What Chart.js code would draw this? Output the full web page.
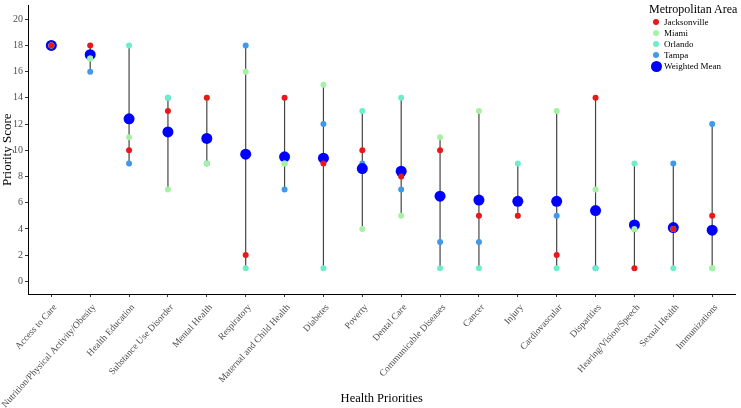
<!DOCTYPE html>
<html>
<head>
<meta charset="utf-8">
<script src="https://cdn.jsdelivr.net/npm/chart.js@4.4.0/dist/chart.umd.min.js"></script>
<style>
  html, body { margin: 0; padding: 0; background: #fff; }
  #wrap { position: relative; width: 741px; height: 408px; }
  #legend { position: absolute; left: 648px; top: 2px; font-family: 'Liberation Serif', serif; color: #000; }
  #legend .title { font-size: 12px; line-height: 14px; height: 14px; margin-left: 1px; }
  #legend .row { display: flex; align-items: center; height: 11.2px; font-size: 9px; }
  #legend .dot { width: 16px; display: flex; justify-content: center; }
  #legend .dot span { display: block; border-radius: 50%; }
</style>
</head>
<body>
<div id="wrap">
  <canvas id="chart" width="741" height="408"></canvas>
  <div id="legend"></div>
</div>
<script>
const categories = [
  'Access to Care', 'Nutrition/Physical Activity/Obesity', 'Health Education',
  'Substance Use Disorder', 'Mental Health', 'Respiratory', 'Maternal and Child Health',
  'Diabetes', 'Poverty', 'Dental Care', 'Communicable Diseases', 'Cancer', 'Injury',
  'Cardiovascular', 'Disparities', 'Hearing/Vision/Speech', 'Sexual Health', 'Immunizations'
];

// priority scores per metropolitan area
const jacksonville = [18, 18, 10, 13, 14, 2, 14, 9, 10, 8, 10, 5, 5, 2, 14, 1, 4, 5];
const miami        = [18, 17, 11, 7, 9, 16, 9, 15, 4, 5, 11, 13, 5, 13, 7, 4, 4, 1];
const orlando      = [18, 17, 18, 14, 14, 1, 9, 1, 13, 14, 1, 1, 9, 1, 1, 9, 1, 1];
const tampa        = [18, 16, 9, 14, 9, 18, 7, 12, 9, 7, 3, 3, 6, 5, 1, 4, 9, 12];
const weightedMean = [18, 17.3, 12.4, 11.4, 10.9, 9.7, 9.5, 9.4, 8.6, 8.4, 6.5, 6.2, 6.1, 6.1, 5.4, 4.3, 4.1, 3.9];

const yTicks = [0, 2, 4, 6, 8, 10, 12, 14, 16, 18, 20];

const series = [
  { label: 'Jacksonville', data: jacksonville, color: '#e8181b', r: 3, order: 1 },
  { label: 'Miami', data: miami, color: '#a6f2a4', r: 3, order: 2 },
  { label: 'Orlando', data: orlando, color: '#6eeec8', r: 3, order: 3 },
  { label: 'Tampa', data: tampa, color: '#4199ea', r: 3, order: 5 },
  { label: 'Weighted Mean', data: weightedMean, color: '#0000ff', r: 5.5, order: 4 }
];

// min-max span per category
const rangeData = [];
categories.forEach((c, i) => {
  const vals = [jacksonville[i], miami[i], orlando[i], tampa[i]];
  rangeData.push({ x: i, y: Math.min(...vals) }, { x: i, y: Math.max(...vals) }, { x: i, y: null });
});

Chart.defaults.font.family = "'Liberation Serif', serif";

const datasets = series.map(s => ({
  label: s.label,
  data: s.data.map((v, i) => ({ x: i, y: v })),
  backgroundColor: s.color,
  borderColor: s.color,
  pointRadius: s.r,
  pointHoverRadius: s.r,
  pointBorderWidth: 0,
  order: s.order
}));
datasets.push({
  label: 'range',
  data: rangeData,
  showLine: true,
  spanGaps: false,
  pointRadius: 0,
  borderColor: '#444',
  borderWidth: 1.2,
  order: 6
});

new Chart(document.getElementById('chart'), {
  type: 'scatter',
  data: { datasets },
  options: {
    responsive: false,
    animation: false,
    plugins: { legend: { display: false }, tooltip: { enabled: false } },
    scales: {
      x: {
        type: 'linear',
        min: -0.6,
        max: 17.6,
        afterBuildTicks: s => { s.ticks = categories.map((_, i) => ({ value: i })); },
        afterFit: s => { s.height = 114; s.paddingLeft = 0; s.paddingRight = 0; },
        ticks: {
          autoSkip: false, maxRotation: 48, minRotation: 48, padding: 5, labelOffset: 4,
          color: '#4d4d4d', font: { size: 9.5 },
          callback: v => categories[v]
        },
        grid: { drawOnChartArea: false, tickLength: 3, color: '#333' },
        border: { color: '#000', width: 1 },
        title: { display: true, text: 'Health Priorities', color: '#000', font: { size: 12.5 }, padding: { top: 0, bottom: 2 } }
      },
      y: {
        min: -0.97,
        max: 21.05,
        afterBuildTicks: s => { s.ticks = yTicks.map(v => ({ value: v })); },
        afterFit: s => { s.width = 28; s.paddingTop = 0; s.paddingBottom = 0; },
        ticks: { padding: 2, color: '#4d4d4d', font: { size: 10 } },
        grid: { drawOnChartArea: false, tickLength: 3, color: '#333' },
        border: { color: '#000', width: 1 },
        title: { display: true, text: 'Priority Score', color: '#000', font: { size: 13 }, padding: 0 }
      }
    }
  }
});

// legend
const legend = document.getElementById('legend');
legend.innerHTML = '<div class="title">Metropolitan Area</div>' + series.map(s =>
  `<div class="row"><div class="dot"><span style="width:${s.r * 2}px;height:${s.r * 2}px;background:${s.color}"></span></div>${s.label}</div>`
).join('');
</script>
</body>
</html>
